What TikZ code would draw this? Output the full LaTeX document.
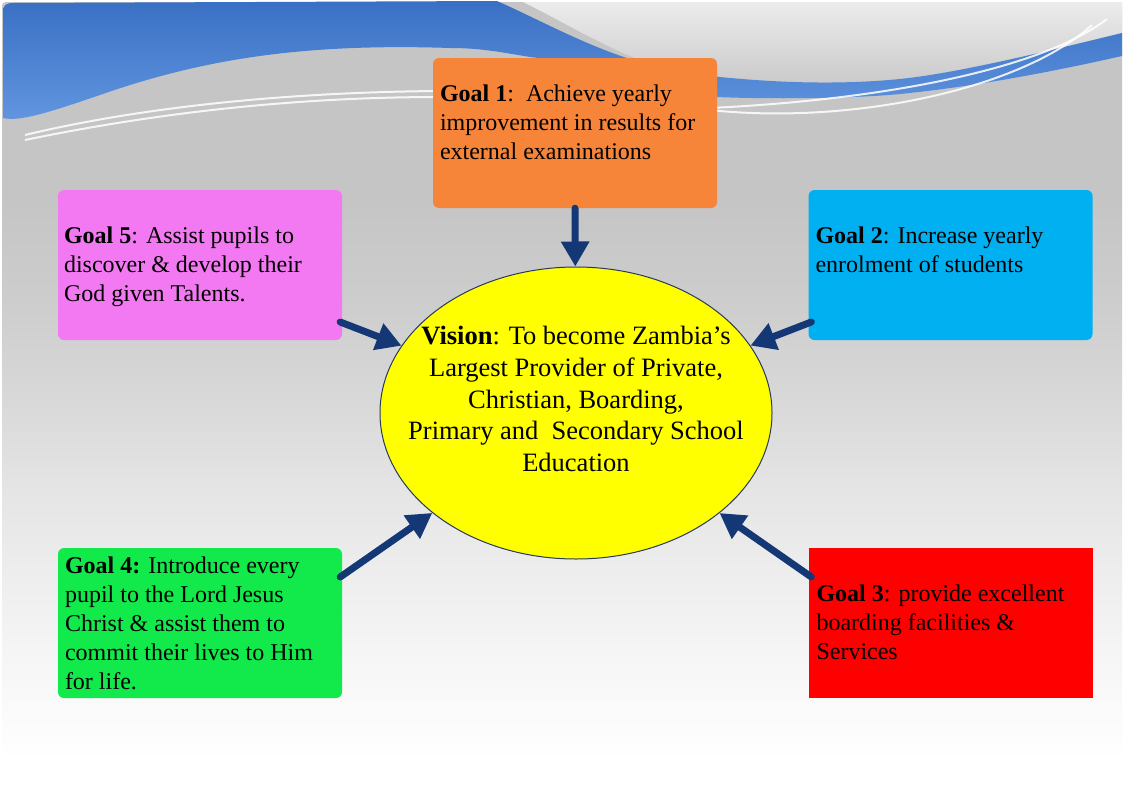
\documentclass[tikz,border=0pt]{standalone}
\usepackage{fontspec}
\setmainfont{Liberation Serif}
\usetikzlibrary{positioning,arrows.meta,shapes.geometric}
\definecolor{goalorange}{RGB}{246,133,58}
\definecolor{goalpink}{RGB}{243,121,242}
\definecolor{goalcyan}{RGB}{0,176,240}
\definecolor{goalgreen}{RGB}{18,234,76}
\definecolor{goalred}{RGB}{255,0,0}
\definecolor{visionyellow}{RGB}{255,255,0}
\definecolor{visionedge}{RGB}{38,58,92}
\definecolor{arrownavy}{RGB}{20,56,118}
\definecolor{wavetop}{RGB}{58,112,196}
\definecolor{wavebottom}{RGB}{98,150,224}
\definecolor{slidegrey}{RGB}{197,197,197}
\definecolor{swooshtop}{RGB}{236,236,236}
\definecolor{swooshbottom}{RGB}{202,202,202}
\pgfdeclareverticalshading{slidefade}{100bp}{color(0bp)=(white); color(27bp)=(white);
  color(34bp)=(white!83!slidegrey); color(43.5bp)=(white!57!slidegrey);
  color(50bp)=(white!33!slidegrey); color(56bp)=(white!14!slidegrey);
  color(62.5bp)=(slidegrey); color(100bp)=(slidegrey)}

\begin{document}
\begin{tikzpicture}[x=1pt,y=-1pt,
            goalbox/.style={rectangle,rounded corners=6pt,minimum width=284pt,
                            minimum height=150pt,inner sep=0pt},
            goaltext/.style={anchor=north west,inner sep=0pt,align=left,
                             font=\fontsize{24pt}{29pt}\selectfont},
            visiontext/.style={inner sep=0pt,align=center,
                               font=\fontsize{26.5pt}{31.7pt}\selectfont},
            goalarrow/.style={draw=arrownavy,line width=7pt,line cap=round,
                              -{Triangle[length=25pt,width=27pt]}},
            swoosh/.style={white,line width=2pt,opacity=0.85}]
        \useasboundingbox (0,0) rectangle (1124,795);
        % slide background
        \fill[white] (0,0) rectangle (1124,795);
        \shade[shading=slidefade,rounded corners=4pt] (2,2) rectangle (1122,793);
        % light swoosh top right
        \shade[top color=swooshtop,bottom color=swooshbottom]
          (523,2) -- (1122,2) -- (1122,34)
          .. controls (1060,50) and (960,74) .. (900,80)
          .. controls (850,84) and (760,84) .. (700,76)
          .. controls (680,73) and (660,68) .. (645,62)
          .. controls (600,45) and (560,20) .. (523,2) -- cycle;
        % blue wave
        \shade[top color=wavetop,bottom color=wavebottom]
          (3,118) -- (3,12) .. controls (3,5) and (6,3) .. (14,3) -- (497,1)
          .. controls (540,20) and (590,48) .. (640,62)
          .. controls (680,72) and (700,75) .. (720,77)
          .. controls (790,84) and (850,84) .. (900,79)
          .. controls (960,73) and (1060,48) .. (1122,33) -- (1122,56)
          .. controls (1060,70) and (980,86) .. (900,94)
          .. controls (850,99) and (760,99) .. (717,97)
          .. controls (640,95) and (580,62) .. (530,57)
          .. controls (500,52) and (480,48) .. (450,48)
          .. controls (300,43) and (200,60) .. (100,95)
          .. controls (50,112) and (20,122) .. (3,118) -- cycle;
        % white lines
        \draw[swoosh] (25,135) .. controls (150,105) and (300,92) .. (440,91);
        \draw[swoosh] (25,140) .. controls (160,112) and (300,97) .. (440,97);
        \draw[swoosh] (710,108) .. controls (880,100) and (1040,70) .. (1107,19);
        \draw[swoosh] (710,110) .. controls (850,125) and (1020,90) .. (1092,25);

        % goals
        \node[goalbox,fill=goalorange] (g1) at (575,133) {};
        \node[goalbox,fill=goalpink] (g5) at (200,265) {};
        \node[goalbox,fill=goalcyan] (g2) at (950.5,265) {};
        \node[goalbox,fill=goalgreen] (g4) at (200,623) {};
        \node[goalbox,fill=goalred,rounded corners=0pt] (g3) at (950.5,623) {};

        % vision
        \node[ellipse,draw=visionedge,line width=1pt,fill=visionyellow,
              minimum width=392pt,minimum height=292pt,inner sep=0pt] (vis) at (576,413) {};

        \draw[goalarrow] (g1.south) -- (vis);
        \draw[goalarrow] ([shift={(-2,57)}]g5.east) -- (vis);
        \draw[goalarrow] ([shift={(3,57)}]g2.west) -- (vis);
        \draw[goalarrow] ([shift={(-2,-46)}]g4.east) -- (vis);
        \draw[goalarrow] ([shift={(3,-46)}]g3.west) -- (vis);

        \node[goaltext] (t1) at ([shift={(7,27)}]g1.north west)
          {\textbf{Goal 1}:\ \ Achieve yearly\\improvement in results for\\external examinations};
        \node[goaltext] (t5) at ([shift={(6,37)}]g5.north west)
          {\textbf{Goal 5}: Assist pupils to\\discover \& develop their\\God given Talents.};
        \node[goaltext] (t2) at ([shift={(7,37)}]g2.north west)
          {\textbf{Goal 2}: Increase yearly\\enrolment of students};
        \node[goaltext] (t4) at ([shift={(7,9)}]g4.north west)
          {\textbf{Goal 4:} Introduce every\\pupil to the Lord Jesus\\Christ \& assist them to\\commit their lives to Him\\for life.};
        \node[goaltext] (t3) at ([shift={(8,37)}]g3.north west)
          {\textbf{Goal 3}: provide excellent\\boarding facilities \&\\Services};
        \node[visiontext] (vt) at (576,399)
          {\textbf{Vision}: To become Zambia’s\\Largest Provider of Private,\\Christian, Boarding,\\Primary and\ \ Secondary School\\Education};
\end{tikzpicture}
\end{document}
